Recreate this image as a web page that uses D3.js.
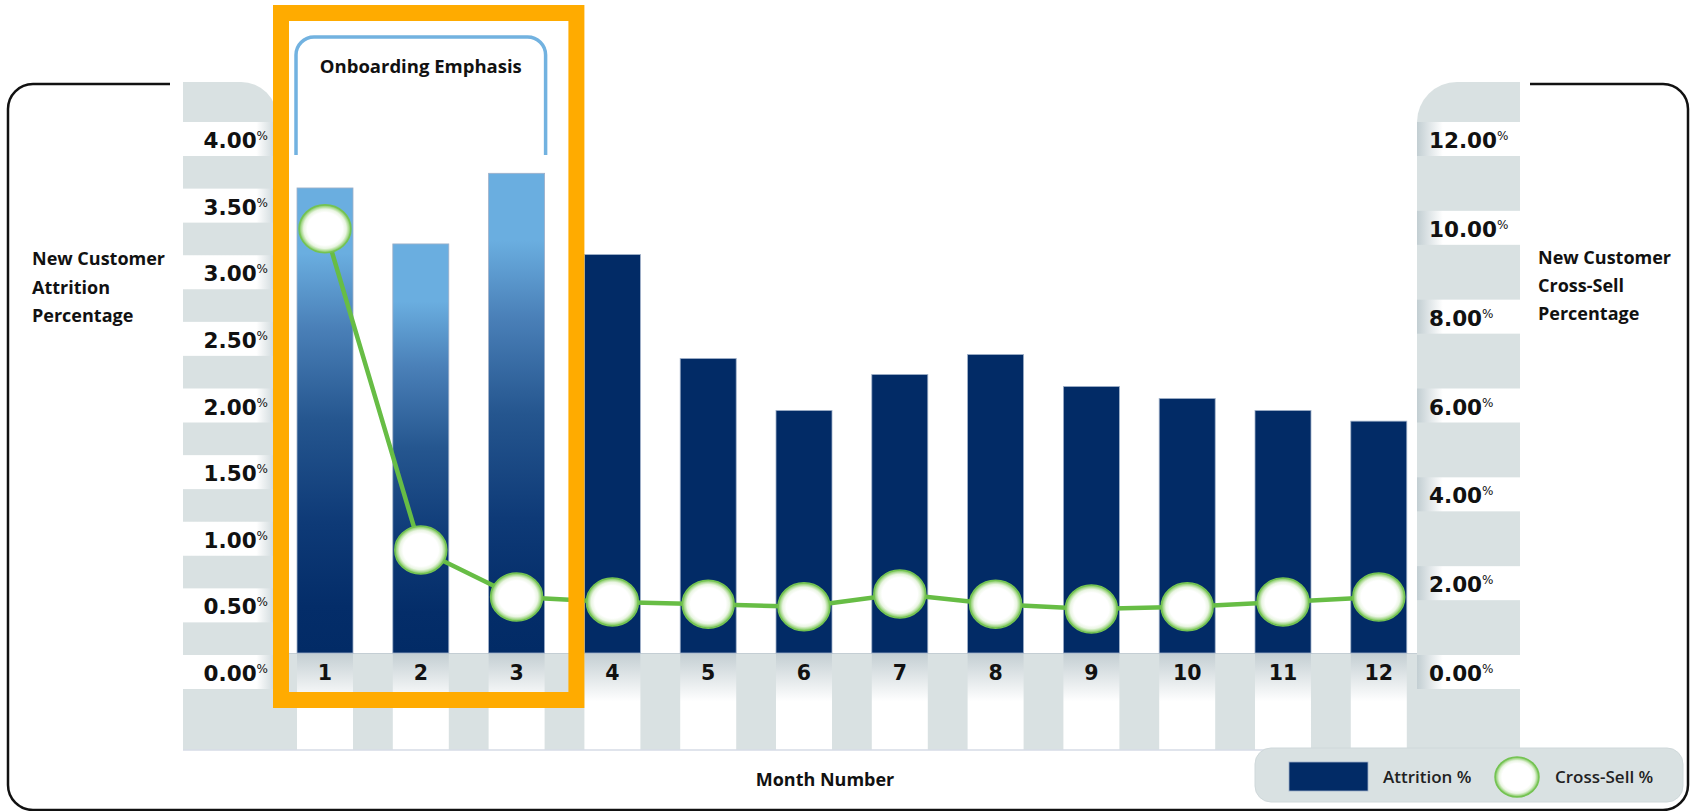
<!DOCTYPE html>
<html>
<head>
<meta charset="utf-8">
<script src="https://cdn.jsdelivr.net/npm/d3@7"></script>
<style>
  html, body { margin: 0; padding: 0; background: #ffffff; }
  svg { display: block; }
  .tick { font-family: "DejaVu Sans", sans-serif; font-weight: bold; fill: #111; }
  .lbl { font-family: "Open Sans", sans-serif; font-weight: 700; fill: #111; }
  .leg { font-family: "Open Sans", sans-serif; font-weight: 600; fill: #222; }
</style>
</head>
<body>
<svg id="chart" width="1690" height="811"></svg>
<script>
// ---------- data ----------
const months = ["1","2","3","4","5","6","7","8","9","10","11","12"];
const attrition = [3.49, 3.07, 3.60, 2.99, 2.21, 1.82, 2.09, 2.24, 2.00, 1.91, 1.82, 1.74];
const crossSell = [9.55, 2.32, 1.26, 1.15, 1.10, 1.04, 1.33, 1.10, 0.99, 1.04, 1.15, 1.26];
const leftTicks = [0, 0.5, 1.0, 1.5, 2.0, 2.5, 3.0, 3.5, 4.0];
const rightTicks = [0, 2, 4, 6, 8, 10, 12];
const emphasisMonths = ["1","2","3"];
const leftTitle = ["New Customer", "Attrition", "Percentage"];
const rightTitle = ["New Customer", "Cross-Sell", "Percentage"];
const xTitle = "Month Number";
const emphasisLabel = "Onboarding Emphasis";
const legendLabels = ["Attrition %", "Cross-Sell %"];

// ---------- layout ----------
const svg = d3.select("#chart");
const base = 653, top4 = 120, lowBottom = 750;
const x = d3.scaleBand().domain(months).range([277.1, 1426.7]).paddingInner(0.4155).paddingOuter(0.2078);
const yL = d3.scaleLinear().domain([0, 4]).range([base, top4]);
const yR = d3.scaleLinear().domain([0, 12]).range([base, top4]);
const bw = x.bandwidth();
const NAVY = "#022b66", GREY = "#d9e1e2";

const defs = svg.append("defs");
function lin(id, x1, y1, x2, y2, stops) {
  const g = defs.append("linearGradient").attr("id", id)
    .attr("x1", x1).attr("y1", y1).attr("x2", x2).attr("y2", y2);
  stops.forEach(s => g.append("stop").attr("offset", s[0]).attr("stop-color", s[1]));
}
lin("onb", 0, 0, 0, 1, [[0, "#6aaee0"], [0.14, "#6aaee0"], [0.3, "#4a80b8"], [0.5, "#25568f"], [0.72, "#0e3a77"], [0.9, "#042d69"], [1, NAVY]]);
lin("leftBand", 0, 0, 1, 0, [[0, "#ffffff"], [0.78, "#ffffff"], [1, "#c9d4d7"]]);
lin("rightBand", 0, 0, 1, 0, [[0, "#c2ced2"], [0.25, "#ffffff"], [1, "#ffffff"]]);
lin("col", 0, 0, 0, 1, [[0, "#c3ced2"], [0.5, "#ffffff"], [1, "#ffffff"]]);
const rg = defs.append("radialGradient").attr("id", "mk");
[[0, "#ffffff"], [0.68, "#ffffff"], [0.82, "#eaf5e3"], [0.93, "#a2d787"], [1, "#6cbf47"]]
  .forEach(s => rg.append("stop").attr("offset", s[0]).attr("stop-color", s[1]));

// ---------- frame ----------
svg.append("path")
  .attr("d", "M170,84 H33 A25,25 0 0 0 8,109 V785 A25,25 0 0 0 33,810 H1663 A25,25 0 0 0 1688,785 V109 A25,25 0 0 0 1663,84 H1530")
  .attr("fill", "none").attr("stroke", "#111").attr("stroke-width", 2.5);

// ---------- strips ----------
const lx0 = 183, lx1 = x.range()[0], rx0 = 1417, rx1 = 1520, stripTop = 82, r = 36;
svg.append("path")
  .attr("d", `M${lx0},${lowBottom} V${stripTop} H${lx1 - r} A${r},${r} 0 0 1 ${lx1},${stripTop + r} V${lowBottom} Z`)
  .attr("fill", GREY);
svg.append("path")
  .attr("d", `M${rx1},${lowBottom} V${stripTop} H${rx0 + r + 4} A${r + 4},${r + 4} 0 0 0 ${rx0},${stripTop + r + 4} V${lowBottom} Z`)
  .attr("fill", GREY);
svg.append("rect").attr("x", lx0).attr("y", base).attr("width", rx1 - lx0).attr("height", lowBottom - base).attr("fill", GREY);
svg.selectAll("rect.col").data(months).join("rect").attr("class", "col")
  .attr("x", d => x(d)).attr("y", base).attr("width", bw).attr("height", lowBottom - base)
  .attr("fill", "url(#col)");
svg.append("line").attr("x1", lx0).attr("x2", rx1).attr("y1", lowBottom).attr("y2", lowBottom)
  .attr("stroke", "#d6dbe6").attr("stroke-width", 1.5);
svg.append("line").attr("x1", lx1).attr("x2", rx0).attr("y1", base + 0.5).attr("y2", base + 0.5)
  .attr("stroke", "#c4ced4").attr("stroke-width", 1);

// ---------- tick bands & labels ----------
const lt = svg.append("g");
lt.selectAll("rect").data(leftTicks).join("rect")
  .attr("x", lx0).attr("y", d => yL(d) + 2).attr("width", lx1 - lx0).attr("height", 34).attr("fill", "url(#leftBand)");
const ltxt = lt.selectAll("text").data(leftTicks).join("text").attr("class", "tick")
  .attr("x", 268).attr("y", d => yL(d) + 28).attr("text-anchor", "end").attr("font-size", 21.5);
ltxt.append("tspan").text(d => d.toFixed(2));
ltxt.append("tspan").attr("font-size", 12).attr("font-weight", "normal").attr("dy", -8).text("%");

const rt = svg.append("g");
rt.selectAll("rect").data(rightTicks).join("rect")
  .attr("x", rx0).attr("y", d => yR(d) + 2).attr("width", rx1 - rx0).attr("height", 34).attr("fill", "url(#rightBand)");
const rtxt = rt.selectAll("text").data(rightTicks).join("text").attr("class", "tick")
  .attr("x", 1429).attr("y", d => yR(d) + 28).attr("font-size", 21.5);
rtxt.append("tspan").text(d => d.toFixed(2));
rtxt.append("tspan").attr("font-size", 12).attr("font-weight", "normal").attr("dy", -8).text("%");

// ---------- bars ----------
svg.selectAll("rect.bar").data(months).join("rect").attr("class", "bar")
  .attr("x", d => x(d)).attr("width", bw)
  .attr("y", (d, i) => yL(attrition[i])).attr("height", (d, i) => base - yL(attrition[i]))
  .attr("fill", d => emphasisMonths.includes(d) ? "url(#onb)" : NAVY)
  .attr("stroke", "#9fb0c8").attr("stroke-width", 0.8);

// ---------- line ----------
const pts = months.map((m, i) => [x(m) + bw / 2, yR(crossSell[i])]);
svg.append("path").attr("d", d3.line()(pts)).attr("fill", "none")
  .attr("stroke", "#67bd45").attr("stroke-width", 4.5);
svg.selectAll("ellipse.mk").data(pts).join("ellipse").attr("class", "mk")
  .attr("cx", d => d[0]).attr("cy", d => d[1]).attr("rx", 26).attr("ry", 24)
  .attr("fill", "url(#mk)").attr("stroke", "#74c352").attr("stroke-width", 1.5);

// ---------- month labels ----------
svg.selectAll("text.mo").data(months).join("text").attr("class", "tick mo")
  .attr("x", d => x(d) + bw / 2).attr("y", 680).attr("text-anchor", "middle").attr("font-size", 20.5)
  .text(d => d);

// ---------- titles ----------
svg.append("text").attr("class", "lbl").attr("x", 32).attr("y", 265).attr("font-size", 18)
  .selectAll("tspan").data(leftTitle).join("tspan").attr("x", 32).attr("dy", (d, i) => i ? 28.5 : 0).text(d => d);
svg.append("text").attr("class", "lbl").attr("x", 1538).attr("y", 264).attr("font-size", 18)
  .selectAll("tspan").data(rightTitle).join("tspan").attr("x", 1538).attr("dy", (d, i) => i ? 28 : 0).text(d => d);
svg.append("text").attr("class", "lbl").attr("x", 825).attr("y", 786).attr("text-anchor", "middle")
  .attr("font-size", 18).text(xTitle);

// ---------- onboarding emphasis ----------
const ex0 = x(emphasisMonths[0]) - 1, ex1 = x(emphasisMonths[emphasisMonths.length - 1]) + bw + 1;
const bt = 37, bb = 155, br = 18;
svg.append("path")
  .attr("d", `M${ex0},${bb} V${bt + br} A${br},${br} 0 0 1 ${ex0 + br},${bt} H${ex1 - br} A${br},${br} 0 0 1 ${ex1},${bt + br} V${bb}`)
  .attr("fill", "none").attr("stroke", "#72b2e0").attr("stroke-width", 3.5);
svg.append("text").attr("class", "lbl").attr("x", (ex0 + ex1) / 2).attr("y", 73).attr("text-anchor", "middle")
  .attr("font-size", 18.5).text(emphasisLabel);
const ob0 = x(emphasisMonths[0]) - 16, ob1 = x(months[emphasisMonths.length]) - 8;
svg.append("rect").attr("x", ob0).attr("y", 13).attr("width", ob1 - ob0).attr("height", 687)
  .attr("fill", "none").attr("stroke", "#ffab00").attr("stroke-width", 16);

// ---------- legend ----------
const lg = svg.append("g");
lg.append("rect").attr("x", 1255).attr("y", 748).attr("width", 428).attr("height", 54).attr("rx", 16)
  .attr("fill", GREY).attr("stroke", "#cfd8da").attr("stroke-width", 1);
lg.append("rect").attr("x", 1289).attr("y", 762).attr("width", 79).attr("height", 29)
  .attr("fill", NAVY).attr("stroke", "#9fb0c8").attr("stroke-width", 0.8);
lg.append("text").attr("class", "leg").attr("x", 1383).attr("y", 783).attr("font-size", 17)
  .text(legendLabels[0]);
lg.append("ellipse").attr("cx", 1517).attr("cy", 777).attr("rx", 22).attr("ry", 20)
  .attr("fill", "url(#mk)").attr("stroke", "#74c352").attr("stroke-width", 1.5);
lg.append("text").attr("class", "leg").attr("x", 1555).attr("y", 783).attr("font-size", 17)
  .text(legendLabels[1]);
</script>
</body>
</html>
